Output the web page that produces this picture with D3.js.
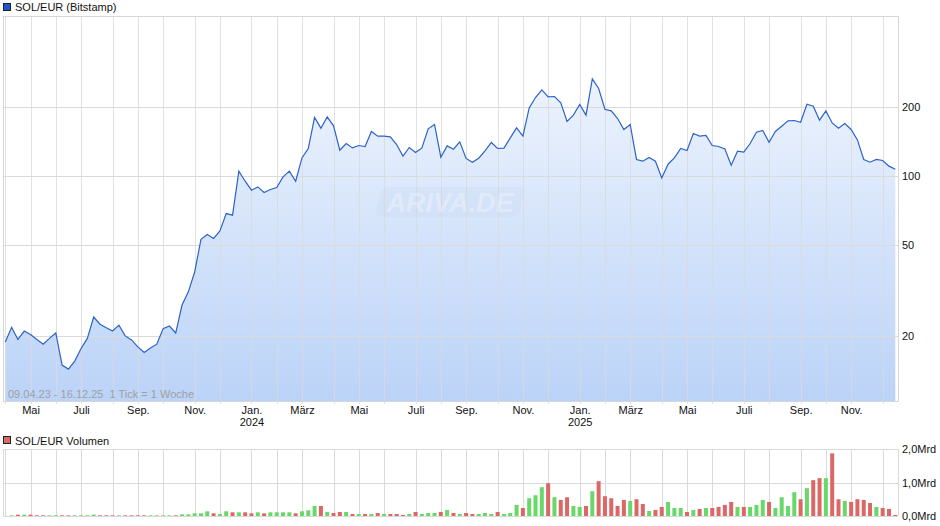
<!DOCTYPE html>
<meta charset="utf-8">
<style>
    body { margin: 0; background: #fff; }
    svg text { font-family: "Liberation Sans", Arial, sans-serif; font-size: 11px; }
    .grid line { stroke: #dadada; shape-rendering: crispEdges; }
    .frame { fill: none; stroke: #d6d6d6; shape-rendering: crispEdges; }
    .axis path, .axis line { display: none; }
    .axis text { fill: #111; }
</style>
<svg width="940" height="526"></svg>
<script src="https://d3js.org/d3.v7.min.js"></script>
<script>
    // weekly closes SOL/EUR, first week starts 09.04.23
    var startDate = new Date(2023, 3, 9);
    var prices = [
        18.9, 21.9, 19.4, 21.1, 20.4, 19.4, 18.5, 19.6, 20.7, 15.0,
        14.4, 15.6, 17.7, 19.6, 24.3, 22.6, 21.8, 21.1, 22.4, 20.1,
        19.3, 18.0, 17.0, 17.8, 18.5, 21.6, 22.2, 20.7, 27.4, 31.3,
        38.2, 53.0, 55.7, 53.5, 57.7, 68.7, 67.6, 105.2, 95.1, 86.9,
        89.8, 84.9, 87.5, 89.3, 99.3, 105.2, 95.1, 120.2, 132.1, 180.4,
        162.0, 181.4, 165.8, 129.8, 138.9, 132.9, 136.1, 134.8, 156.7, 149.5,
        149.5, 148.4, 137.5, 122.3, 133.4, 126.9, 132.9, 160.9, 168.1, 121.0,
        135.6, 131.1, 141.2, 119.5, 115.1, 119.8, 128.9, 140.3, 132.1, 132.5,
        146.9, 162.5, 149.5, 198.6, 220.4, 237.9, 221.8, 222.7, 208.8, 173.3,
        184.6, 205.5, 184.6, 265.8, 241.3, 196.0, 192.7, 178.5, 159.9, 168.1,
        118.3, 116.3, 120.7, 116.3, 98.3, 112.8, 120.2, 132.1, 129.4, 153.6,
        149.5, 150.5, 136.1, 134.8, 131.5, 111.7, 128.5, 127.5, 138.9, 155.6,
        158.3, 140.7, 156.7, 165.3, 174.3, 175.0, 172.0, 206.1, 202.1, 175.5,
        192.7, 170.8, 162.0, 169.8, 159.9, 144.0, 118.3, 115.1, 118.3, 117.1,
        110.6, 107.3
    ];
    // weekly volume in Mio. EUR
    var volumes = [
        5, 20, 40, 40, 40, 20, 20, 20, 20, 20,
        20, 20, 20, 20, 40, 20, 20, 20, 20, 20,
        20, 20, 20, 20, 20, 20, 20, 20, 50, 50,
        80, 80, 140, 80, 60, 140, 110, 110, 110, 80,
        110, 80, 110, 110, 110, 110, 80, 140, 170, 300,
        300, 120, 90, 120, 120, 60, 60, 60, 60, 90,
        60, 60, 60, 30, 60, 120, 60, 90, 90, 120,
        180, 90, 60, 90, 60, 60, 90, 60, 120, 60,
        90, 330, 240, 530, 620, 860, 980, 560, 480, 560,
        300, 270, 300, 740, 1040, 590, 530, 300, 480, 450,
        500, 360, 150, 180, 270, 420, 240, 240, 120, 180,
        210, 240, 240, 270, 330, 420, 270, 270, 270, 330,
        480, 420, 240, 560, 300, 710, 500, 830, 1070, 1130,
        1130, 1870, 500, 450, 420, 500, 480, 390, 270, 240,
        210, 30
    ];
    var monthNames = ["Jan.", "Feb.", "März", "April", "Mai", "Juni", "Juli", "Aug.", "Sep.", "Okt.", "Nov.", "Dez."];
    var priceTicks = [20, 50, 100, 200];
    var volumeTicks = [0, 1000, 2000];

    var svg = d3.select("svg");
    var pLeft = 3, pRight = 898, pTop = 16, pBottom = 401;
    var vTop = 449, vBottom = 516;

    var x = d3.scaleLinear().domain([0, prices.length - 1]).range([5.3, 895.3]);
    var y = d3.scaleLog().domain([10.45, 500]).range([pBottom, pTop]);
    var yv = d3.scaleLinear().domain([0, 2000]).range([vBottom, vTop]);

    var dates = prices.map(function(d, i) { return d3.timeDay.offset(startDate, 7 * i); });
    var monthStarts = d3.range(prices.length).filter(function(i) {
        return i === 0 || dates[i].getMonth() !== dates[i - 1].getMonth();
    });
    var labelTicks = monthStarts.filter(function(i) { return i > 0 && dates[i].getMonth() % 2 === 0; });

    var defs = svg.append("defs");
    var grad = defs.append("linearGradient")
        .attr("id", "fillGrad")
        .attr("gradientUnits", "userSpaceOnUse")
        .attr("x1", 0).attr("y1", pTop).attr("x2", 0).attr("y2", pBottom);
    grad.append("stop").attr("offset", "0%").attr("stop-color", "#f6f9fe");
    grad.append("stop").attr("offset", "100%").attr("stop-color", "#bbd3f8");

    // ---- price panel ----
    svg.append("path")
        .datum(prices)
        .attr("fill", "url(#fillGrad)")
        .attr("d", d3.area()
            .x(function(d, i) { return x(i); })
            .y0(pBottom)
            .y1(function(d) { return y(d); }));

    var grid = svg.append("g").attr("class", "grid");
    grid.selectAll("line.h")
        .data(priceTicks)
        .enter().append("line")
        .attr("x1", pLeft).attr("x2", pRight)
        .attr("y1", function(d) { return Math.round(y(d)) + 0.5; })
        .attr("y2", function(d) { return Math.round(y(d)) + 0.5; });
    grid.selectAll("line.v")
        .data(monthStarts)
        .enter().append("line")
        .attr("x1", function(i) { return Math.round(x(i)) + 0.5; })
        .attr("x2", function(i) { return Math.round(x(i)) + 0.5; })
        .attr("y1", pTop).attr("y2", pBottom + 3)
        .attr("stroke-opacity", 0.8);

    // watermark
    var wm = svg.append("g").attr("transform", "translate(450,202)");
    wm.append("rect")
        .attr("x", -72).attr("y", -15).attr("width", 144).attr("height", 30)
        .attr("rx", 8)
        .attr("transform", "skewX(-14)")
        .attr("fill", "#b9cbea").attr("fill-opacity", 0.16);
    wm.append("text")
        .attr("text-anchor", "middle").attr("dy", "0.36em")
        .style("font-size", "27px").style("font-style", "italic").style("font-weight", "bold")
        .attr("fill", "#ffffff").attr("fill-opacity", 0.28)
        .text("ARIVA.DE");

    svg.append("path")
        .datum(prices)
        .attr("fill", "none")
        .attr("stroke", "#2c63c8")
        .attr("stroke-width", 1.2)
        .attr("d", d3.line()
            .x(function(d, i) { return x(i); })
            .y(function(d) { return y(d); }));

    svg.append("rect").attr("class", "frame")
        .attr("x", pLeft + 0.5).attr("y", pTop + 0.5)
        .attr("width", pRight - pLeft).attr("height", pBottom - pTop);

    svg.append("g").attr("class", "axis")
        .attr("transform", "translate(" + pRight + ",0)")
        .call(d3.axisRight(y).tickValues(priceTicks).tickSize(0).tickPadding(4).tickFormat(d3.format("d")));

    var xAxis = svg.append("g").attr("class", "axis")
        .attr("transform", "translate(0," + pBottom + ")")
        .call(d3.axisBottom(x).tickValues(labelTicks).tickSize(0).tickPadding(5)
            .tickFormat(function(i) { return monthNames[dates[i].getMonth()]; }));
    xAxis.selectAll(".tick text")
        .filter(function(i) { return dates[i].getMonth() === 0; })
        .append("tspan")
        .attr("x", 0).attr("dy", "1.1em")
        .text(function(i) { return dates[i].getFullYear(); });

    svg.append("text")
        .attr("x", 8).attr("y", 398)
        .attr("fill", "#a0a0a0")
        .text("09.04.23 - 16.12.25  1 Tick = 1 Woche")
        .style("white-space", "pre");

    // legend
    svg.append("rect").attr("x", 3.5).attr("y", 3.5).attr("width", 7).attr("height", 7)
        .attr("fill", "#1d58c4").attr("stroke", "#222");
    svg.append("text").attr("x", 15).attr("y", 10.5).attr("fill", "#111").text("SOL/EUR (Bitstamp)");

    // ---- volume panel ----
    var vgrid = svg.append("g").attr("class", "grid");
    vgrid.selectAll("line.h")
        .data(volumeTicks)
        .enter().append("line")
        .attr("x1", pLeft).attr("x2", pRight)
        .attr("y1", function(d) { return Math.round(yv(d)) + 0.5; })
        .attr("y2", function(d) { return Math.round(yv(d)) + 0.5; });
    vgrid.selectAll("line.v")
        .data(monthStarts.concat([-0.37]))
        .enter().append("line")
        .attr("x1", function(i) { return Math.round(x(i)) + 0.5; })
        .attr("x2", function(i) { return Math.round(x(i)) + 0.5; })
        .attr("y1", vTop).attr("y2", vBottom);
    vgrid.append("line")
        .attr("x1", pRight + 0.5).attr("x2", pRight + 0.5)
        .attr("y1", vTop).attr("y2", vBottom);

    svg.append("g").selectAll("rect")
        .data(volumes)
        .enter().append("rect")
        .attr("x", function(d, i) { return x(i) - 2; })
        .attr("width", 4)
        .attr("y", function(d) { return yv(d); })
        .attr("height", function(d) { return yv(0) - yv(d); })
        .attr("fill", function(d, i) { return i > 0 && prices[i] < prices[i - 1] ? "#dc6767" : "#68d868"; });

    svg.append("g").attr("class", "axis")
        .attr("transform", "translate(" + pRight + ",0)")
        .call(d3.axisRight(yv).tickValues(volumeTicks).tickSize(0).tickPadding(4)
            .tickFormat(function(d) { return d3.format(".1f")(d / 1000).replace(".", ",") + "Mrd"; }));

    svg.append("rect").attr("x", 3.5).attr("y", 436.5).attr("width", 7).attr("height", 7)
        .attr("fill", "#dc6767").attr("stroke", "#222");
    svg.append("text").attr("x", 15).attr("y", 444.5).attr("fill", "#111").text("SOL/EUR Volumen");
</script>
